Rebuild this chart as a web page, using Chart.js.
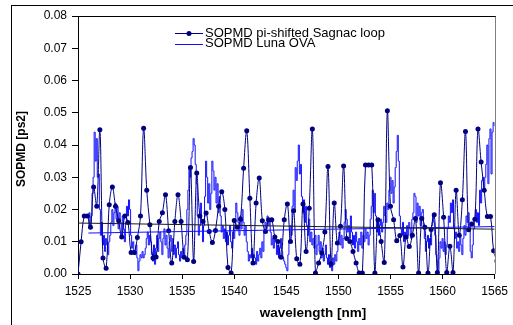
<!DOCTYPE html>
<html>
<head>
<meta charset="utf-8">
<script src="https://cdn.jsdelivr.net/npm/chart.js@4/dist/chart.umd.min.js"></script>
<style>
  html, body { margin: 0; padding: 0; background: #fff; overflow: hidden; }
  canvas { display: block; }
</style>
</head>
<body>
<canvas id="chart" width="513" height="325"></canvas>
<script>
// axis ranges
const xMin = 1525, xMax = 1565, xStep = 5;
const yMin = 0, yMax = 0.08, yStep = 0.01;
const xTitle = "wavelength [nm]";
const yTitle = "SOPMD [ps2]";

// SOPMD measured with the pi-shifted Sagnac loop (one point every 0.3 nm from 1525 nm)
const sagnacLabel = "SOPMD pi-shifted Sagnac loop";
const sagnacStart = 1525, sagnacStep = 0.3;
const sagnacValues = [
  0.000, 0.010, 0.018, 0.018, 0.0145, 0.027, 0.021, 0.0447, 0.005, 0.0018,
  0.0215, 0.027, 0.021, 0.0165, 0.0115, 0.018, 0.016, 0.0067, 0.0067, 0.0113,
  0.018, 0.0452, 0.026, 0.0153, 0.005, 0.0053, 0.0163, 0.019, 0.0246, 0.0134,
  0.0034, 0.0163, 0.0246, 0.0163, 0.0052, 0.0044, 0.033, 0.0039, 0.0313, 0.018,
  0.0163, 0.0189, 0.0132, 0.0098, 0.0135, 0.021, 0.0255, 0.020, 0.002, 0.0003,
  0.0166, 0.0145, 0.017, 0.0328, 0.0444, 0.0235, 0.0034, 0.022, 0.0298, 0.0165,
  0.0132, 0.0168, 0.0168, 0.0115, 0.0101, 0.0052, 0.0168, 0.0217, 0.0101, 0.0196,
  0.0047, 0.003, 0.0217, 0.007, 0.0204, 0.045, 0.0003, 0.0034, 0.0065, 0.013,
  0.0333, 0.003, 0.022, 0.0096, 0.0148, 0.0335, 0.011, 0.0101, 0.007, 0.0034,
  0.0003, 0.0003, 0.0338, 0.0338, 0.0338, 0.0003, 0.0168, 0.0101, 0.0036, 0.0506,
  0.021, 0.0168, 0.0103, 0.0119, 0.0022, 0.0115, 0.0085, 0.012, 0.0172, 0.0003,
  0.0172, 0.0145, 0.0003, 0.0138, 0.0184, 0.0005, 0.0283, 0.0176, 0.0005, 0.0086,
  0.0005, 0.026, 0.012, 0.023, 0.0442, 0.0137, 0.0155, 0.017, 0.045, 0.0347,
  0.026, 0.0178, 0.0178, 0.0072, 0.004
];

// SOPMD from the Luna OVA (one point every 0.1 nm from 1526 nm)
const lunaLabel = "SOPMD Luna OVA";
const lunaStart = 1526, lunaStep = 0.1;
const lunaValues = [
  0.015, 0.019, 0.014, 0.018, 0.025, 0.030, 0.044, 0.035, 0.042, 0.030,
  0.031, 0.020, 0.012, 0.016, 0.009, 0.012, 0.007, 0.011, 0.009, 0.006,
  0.010, 0.012, 0.016, 0.020, 0.015, 0.019, 0.022, 0.017, 0.021, 0.014,
  0.019, 0.016, 0.012, 0.018, 0.014, 0.010, 0.016, 0.021, 0.018, 0.023,
  0.020, 0.012, 0.008, 0.010, 0.007, 0.006, 0.009, 0.005, 0.001, 0.004,
  0.006, 0.005, 0.007, 0.005, 0.006, 0.008, 0.011, 0.013, 0.009, 0.012,
  0.010, 0.006, 0.004, 0.009, 0.003, 0.008, 0.012, 0.007, 0.011, 0.013,
  0.010, 0.006, 0.011, 0.014, 0.009, 0.012, 0.008, 0.005, 0.010, 0.012,
  0.007, 0.011, 0.006, 0.009, 0.005, 0.008, 0.010, 0.006, 0.004, 0.007,
  0.005, 0.008, 0.006, 0.009, 0.012, 0.020, 0.026, 0.033, 0.030, 0.036,
  0.038, 0.042, 0.040, 0.034, 0.028, 0.018, 0.012, 0.015, 0.022, 0.017,
  0.010, 0.015, 0.024, 0.035, 0.030, 0.022, 0.028, 0.020, 0.025, 0.035,
  0.032, 0.026, 0.030, 0.022, 0.028, 0.019, 0.024, 0.018, 0.013, 0.015,
  0.011, 0.014, 0.010, 0.013, 0.009, 0.012, 0.015, 0.010, 0.008, 0.013,
  0.011, 0.015, 0.022, 0.019, 0.016, 0.012, 0.018, 0.014, 0.020, 0.016,
  0.012, 0.015, 0.010, 0.007, 0.004, 0.006, 0.005, 0.008, 0.004, 0.006,
  0.005, 0.003, 0.007, 0.004, 0.006, 0.008, 0.005, 0.010, 0.007, 0.013,
  0.016, 0.014, 0.018, 0.015, 0.017, 0.013, 0.009, 0.011, 0.008, 0.012,
  0.010, 0.006, 0.009, 0.005, 0.008, 0.011, 0.007, 0.005, 0.004, 0.003,
  0.002, 0.001, 0.006, 0.010, 0.015, 0.012, 0.021, 0.026, 0.020, 0.033,
  0.029, 0.035, 0.040, 0.031, 0.034, 0.024, 0.019, 0.023, 0.016, 0.021,
  0.015, 0.012, 0.017, 0.010, 0.013, 0.009, 0.011, 0.008, 0.012, 0.006,
  0.009, 0.012, 0.007, 0.010, 0.005, 0.008, 0.004, 0.006, 0.009, 0.005,
  0.003, 0.006, 0.002, 0.004, 0.001, 0.005, 0.003, 0.006, 0.004, 0.007,
  0.010, 0.013, 0.009, 0.012, 0.008, 0.011, 0.016, 0.020, 0.017, 0.013,
  0.015, 0.011, 0.018, 0.013, 0.009, 0.012, 0.008, 0.013, 0.010, 0.007,
  0.011, 0.009, 0.013, 0.008, 0.012, 0.010, 0.014, 0.011, 0.013, 0.009,
  0.012, 0.017, 0.021, 0.026, 0.019, 0.025, 0.018, 0.013, 0.016, 0.012,
  0.015, 0.017, 0.013, 0.016, 0.021, 0.018, 0.016, 0.022, 0.020, 0.026,
  0.030, 0.025, 0.029, 0.022, 0.027, 0.033, 0.038, 0.043, 0.035, 0.018,
  0.014, 0.012, 0.016, 0.010, 0.013, 0.011, 0.015, 0.012, 0.016, 0.014,
  0.011, 0.017, 0.019, 0.025, 0.024, 0.016, 0.022, 0.018, 0.021, 0.015,
  0.019, 0.020, 0.014, 0.011, 0.007, 0.010, 0.012, 0.008, 0.011, 0.009,
  0.015, 0.018, 0.016, 0.012, 0.006, 0.004, 0.001, 0.005, 0.010, 0.008,
  0.011, 0.007, 0.010, 0.006, 0.009, 0.014, 0.018, 0.016, 0.022, 0.019,
  0.023, 0.014, 0.011, 0.013, 0.008, 0.010, 0.007, 0.012, 0.009, 0.006,
  0.011, 0.015, 0.012, 0.018, 0.016, 0.019, 0.014, 0.007, 0.005, 0.009,
  0.014, 0.017, 0.020, 0.016, 0.019, 0.015, 0.026, 0.022, 0.029, 0.030,
  0.026, 0.030, 0.034, 0.040, 0.028, 0.042, 0.045, 0.031, 0.044, 0.047,
  0.046
];

// linear trend lines (end points)
const sagnacTrendX = [1525, 1565];
const sagnacTrendY = [0.0158, 0.0139];
const lunaTrendX = [1526, 1565];
const lunaTrendY = [0.0127, 0.0147];

const navy = "#000080";
const blue = "#1010ff";
const font = "'Liberation Sans', Arial, sans-serif";

function toPoints(start, step, values) {
  return values.map((v, i) => ({ x: +(start + i * step).toFixed(2), y: v }));
}

function pairPoints(xs, ys) {
  return xs.map((x, i) => ({ x, y: ys[i] }));
}

// white background, outer frame, plot border
const framePlugin = {
  id: "frame",
  beforeDraw(chart) {
    const { ctx } = chart;
    ctx.save();
    ctx.fillStyle = "#fff";
    ctx.fillRect(0, 0, chart.width, chart.height);
    ctx.strokeStyle = "#000";
    ctx.lineWidth = 1;
    ctx.strokeRect(11.5, 5.5, chart.width + 20, chart.height + 20);
    ctx.restore();
  },
  afterDraw(chart) {
    const { ctx, chartArea: a } = chart;
    ctx.save();
    ctx.lineWidth = 1;
    ctx.strokeStyle = "#808080";
    ctx.beginPath();
    ctx.moveTo(Math.round(a.right) + 0.5, a.top);
    ctx.lineTo(Math.round(a.right) + 0.5, a.bottom);
    ctx.stroke();
    ctx.strokeStyle = "#000";
    ctx.beginPath();
    ctx.moveTo(a.left, Math.round(a.top) + 0.5);
    ctx.lineTo(a.right + 1, Math.round(a.top) + 0.5);
    ctx.stroke();
    ctx.restore();
  }
};

// compact two-row legend and axis titles
const legendPlugin = {
  id: "compactLegend",
  afterDraw(chart) {
    const { ctx } = chart;
    const rows = chart.data.datasets.filter((d) => !d.hideInLegend);
    ctx.save();
    ctx.font = `13px ${font}`;
    ctx.textBaseline = "middle";
    rows.forEach((d, i) => {
      const y = 33 + i * 10.6;
      const x0 = 175, x1 = 203;
      ctx.strokeStyle = d.borderColor;
      ctx.lineWidth = 1;
      ctx.beginPath();
      ctx.moveTo(x0, Math.round(y) + 0.5);
      ctx.lineTo(x1, Math.round(y) + 0.5);
      ctx.stroke();
      if (d.pointRadius > 0) {
        ctx.fillStyle = d.pointBackgroundColor;
        ctx.beginPath();
        ctx.arc((x0 + x1) / 2, Math.round(y) + 0.5, d.pointRadius, 0, Math.PI * 2);
        ctx.fill();
      }
      ctx.fillStyle = "#000";
      ctx.fillText(d.label, 205, y);
    });

    ctx.textAlign = "center";
    ctx.font = `bold 13.5px ${font}`;
    ctx.fillText(xTitle, 313, 313);
    ctx.font = `bold 12px ${font}`;
    ctx.translate(22, 149);
    ctx.rotate(-Math.PI / 2);
    ctx.fillText(yTitle, 0, 0);
    ctx.restore();
  }
};

new Chart(document.getElementById("chart"), {
  type: "line",
  data: {
    datasets: [
      {
        label: "Sagnac trend",
        hideInLegend: true,
        data: pairPoints(sagnacTrendX, sagnacTrendY),
        borderColor: "#1a1a1a",
        borderWidth: 1,
        pointRadius: 0,
        order: 0
      },
      {
        label: "Luna trend",
        hideInLegend: true,
        data: pairPoints(lunaTrendX, lunaTrendY),
        borderColor: blue,
        borderWidth: 1,
        pointRadius: 0,
        order: 0
      },
      {
        label: sagnacLabel,
        data: toPoints(sagnacStart, sagnacStep, sagnacValues),
        borderColor: navy,
        backgroundColor: navy,
        borderWidth: 1,
        tension: 0.35,
        pointRadius: 2.5,
        pointBackgroundColor: navy,
        pointBorderWidth: 0,
        order: 1
      },
      {
        label: lunaLabel,
        data: toPoints(lunaStart, lunaStep, lunaValues),
        borderColor: blue,
        backgroundColor: blue,
        borderWidth: 1,
        stepped: "middle",
        pointRadius: 0,
        order: 2
      }
    ]
  },
  options: {
    responsive: false,
    animation: false,
    devicePixelRatio: 1,
    layout: { padding: { top: 16, right: 15, left: 0, bottom: 0 } },
    elements: { line: { tension: 0 } },
    plugins: { legend: { display: false }, tooltip: { enabled: false } },
    scales: {
      x: {
        type: "linear",
        min: xMin,
        max: xMax,
        ticks: { stepSize: xStep, color: "#000", font: { family: font, size: 12 }, padding: 5, maxRotation: 0, callback: (v) => String(v) },
        grid: { drawOnChartArea: false, tickLength: 5, color: "#000" },
        border: { color: "#000", width: 1 },
        afterFit: (s) => { s.height = 51; }
      },
      y: {
        min: yMin,
        max: yMax,
        ticks: { stepSize: yStep, color: "#000", font: { family: font, size: 12 }, padding: 5, callback: (v) => v.toFixed(2) },
        grid: { drawOnChartArea: false, tickLength: 6, color: "#000" },
        border: { color: "#000", width: 1 },
        afterFit: (s) => { s.width = 78; }
      }
    }
  },
  plugins: [framePlugin, legendPlugin]
});
</script>
</body>
</html>
